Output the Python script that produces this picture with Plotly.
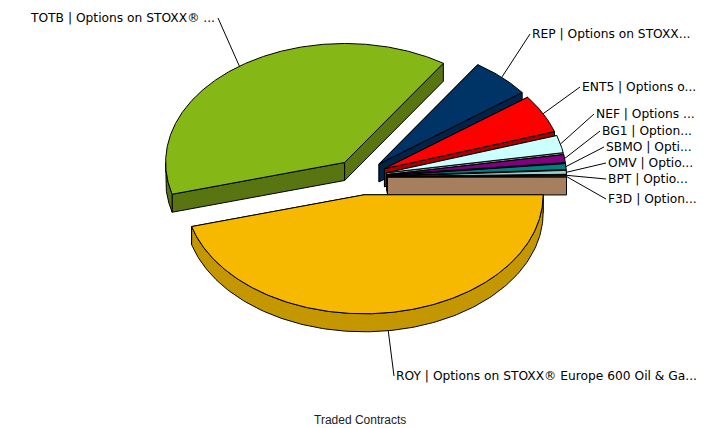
import numpy as np
import plotly.graph_objects as go

# Data (share of traded contracts, %)
labels = ["ROY | Options on STOXX® Europe 600 Oil & Ga...",
          "TOTB | Options on STOXX® ...",
          "REP | Options on STOXX...",
          "ENT5 | Options o...",
          "NEF | Options ...",
          "BG1 | Option...",
          "SBMO | Opti...",
          "OMV | Optio...",
          "BPT | Optio...",
          "F3D | Option..."]
values = [45.7, 38.6, 5.45, 5.2, 2.36, 1.08, 0.8, 0.53, 0.17, 0.11]
title_text = "Traded Contracts"

# Styles
colors = ["#F7B900", "#85B716", "#003366", "#FF0000", "#CCFFFF",
          "#800080", "#008080", "#99CCCC", "#FFFFCC", "#A67F5F"]
wall_colors = ["#C49600", "#587512", "#00234A", "#A80000", "#8A9E9E",
               "#560056", "#005656", "#668888", "#AAAA88", "#A67F5F"]
label_x = [394, 28, 530, 580, 594, 600, 604, 606, 606, 606]
label_y = [376, 18, 34, 87, 114, 131, 147, 163, 179, 199]
CX, CY, RX, RY, DEPTH, EXPLODE = 360.5, 177.0, 179.0, 119.0, 18.0, 27.0

frac = np.array(values) / sum(values)
ends = np.cumsum(frac) * 2 * np.pi
starts = ends - frac * 2 * np.pi

fig = go.Figure()


def poly(xs, ys, fill, name):
    fig.add_trace(go.Scatter(x=xs, y=ys, mode="lines", fill="toself", fillcolor=fill,
                             line=dict(color="#000000", width=1), hoverinfo="text",
                             text=name, showlegend=False))


geom = []
for i in range(len(values)):
    mid = (starts[i] + ends[i]) / 2
    cx = CX + EXPLODE * np.cos(mid)
    cy = CY + EXPLODE * np.sin(mid) * RY / RX
    geom.append((cx, cy, mid))

# back to front: TOTB ... F3D, then ROY
for i in list(range(1, len(values))) + [0]:
    cx, cy, mid = geom[i]
    s, e = starts[i], ends[i]
    n = max(int((e - s) * 120), 4)
    t = np.linspace(s, e, n)
    ax = cx + RX * np.cos(t)
    ay = cy + RY * np.sin(t)
    # cut faces
    for a in (s, e):
        px, py = cx + RX * np.cos(a), cy + RY * np.sin(a)
        poly([cx, px, px, cx, cx], [cy, py, py + DEPTH, cy + DEPTH, cy], wall_colors[i], labels[i])
    # front rim
    lo, hi = max(s, 0.0), min(e, np.pi)
    if hi > lo:
        tt = np.linspace(lo, hi, 160)
        rx_ = cx + RX * np.cos(tt)
        ry_ = cy + RY * np.sin(tt)
        poly(np.r_[rx_, rx_[::-1], rx_[0]], np.r_[ry_, ry_[::-1] + DEPTH, ry_[0]], wall_colors[i], labels[i])
    # top face
    poly(np.r_[cx, ax, cx], np.r_[cy, ay, cy], colors[i], labels[i])

LABEL_WIDTH_TOTB = 190
annotations = []
for i, lab in enumerate(labels):
    cx, cy, mid = geom[i]
    px = cx + RX * np.cos(mid)
    py = cy + RY * np.sin(mid) + (DEPTH if np.sin(mid) > 0 else 0)
    end_x = label_x[i] + LABEL_WIDTH_TOTB if i == 1 else label_x[i]
    fig.add_trace(go.Scatter(x=[px, end_x], y=[py, label_y[i]], mode="lines",
                             line=dict(color="#000000", width=1), hoverinfo="skip", showlegend=False))
    annotations.append(dict(x=label_x[i], y=label_y[i], xref="x", yref="y", text=lab,
                            showarrow=False, xanchor="left", yanchor="middle",
                            font=dict(family="DejaVu Sans", size=12.25, color="#000000")))
annotations.append(dict(x=360, y=420, xref="x", yref="y", text=title_text, showarrow=False,
                        xanchor="center", yanchor="middle",
                        font=dict(family="Liberation Sans", size=12, color="#222222")))

fig.update_layout(width=720, height=428, margin=dict(l=0, r=0, t=0, b=0),
                  paper_bgcolor="#FFFFFF", plot_bgcolor="#FFFFFF",
                  xaxis=dict(range=[0, 720], visible=False, fixedrange=True),
                  yaxis=dict(range=[428, 0], visible=False, fixedrange=True),
                  annotations=annotations, showlegend=False)
fig.write_html("out.html", config=dict(displayModeBar=False),
               post_script="document.body.style.margin='0';document.body.style.overflow='hidden';")
